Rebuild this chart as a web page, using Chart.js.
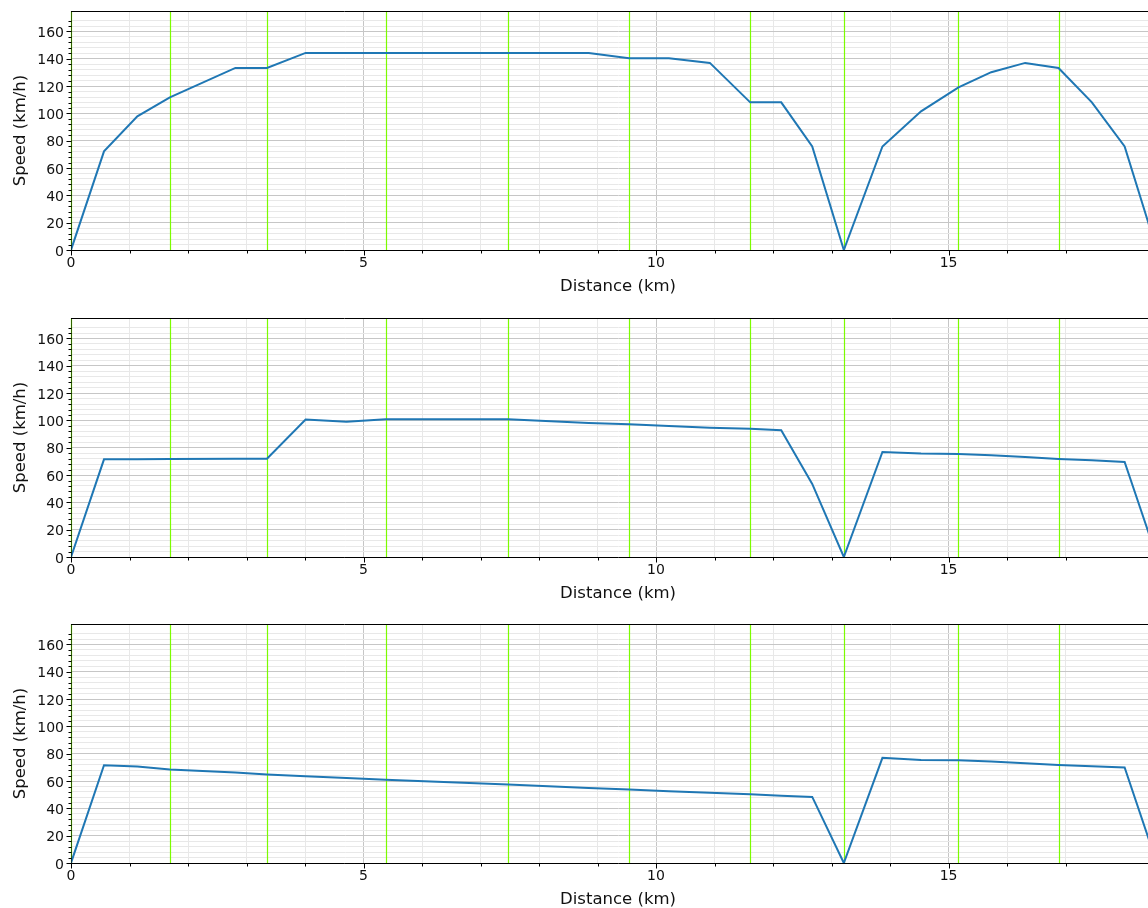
<!DOCTYPE html>
<html>
<head>
<meta charset="utf-8">
<script src="https://cdn.jsdelivr.net/npm/chart.js@4/dist/chart.umd.min.js"></script>
<style>
  html, body { margin: 0; padding: 0; background: #fff; width: 1148px; height: 908px; overflow: hidden; }
  .wrap { position: absolute; left: 0; width: 1170px; height: 300px; }
  canvas { display: block; }
</style>
</head>
<body>
<div class="wrap" style="top:0px"><canvas id="c1" width="1170" height="300"></canvas></div>
<div class="wrap" style="top:307px"><canvas id="c2" width="1170" height="300"></canvas></div>
<div class="wrap" style="top:613px"><canvas id="c3" width="1170" height="300"></canvas></div>
<script>
// ---- data ----
const distances = [0, 0.564, 1.134, 1.69, 2.81, 3.35, 4.01, 4.71, 5.38, 7.47, 8.85, 9.54, 10.22, 10.92, 11.61, 12.14, 12.67, 13.21, 13.87, 14.53, 15.17, 15.73, 16.31, 16.88, 17.45, 18.01, 18.56];
const speedTop = [0, 72.2, 97.9, 111.8, 133.3, 133.3, 144.3, 144.3, 144.3, 144.3, 144.3, 140.4, 140.4, 137.0, 108.1, 108.1, 75.8, 0, 75.8, 101.5, 119.1, 130.2, 137.0, 133.3, 108.1, 75.8, 0];
const speedMiddle = [0, 71.5, 71.6, 71.8, 72.0, 72.0, 100.6, 99.1, 100.9, 100.9, 98.2, 97.2, 96.0, 94.7, 93.9, 92.8, 53.5, 0, 76.9, 75.7, 75.5, 74.5, 73.3, 71.8, 70.8, 69.6, 0];
const speedBottom = [0, 71.6, 70.6, 68.4, 66.3, 64.8, 63.5, 62.3, 61.0, 57.4, 55.0, 53.8, 52.6, 51.4, 50.3, 49.3, 48.4, 0, 77.0, 75.5, 75.3, 74.3, 73.0, 71.8, 70.8, 69.9, 0];
const stations = [0, 1.69, 3.345, 5.38, 7.47, 9.54, 11.61, 13.21, 15.17, 16.88];
const xLabel = 'Distance (km)';
const yLabel = 'Speed (km/h)';

const FONT = 'DejaVu Sans';
const MAJOR_GRID = '#c6c6c6';
const MINOR_GRID = '#e8e8e8';

const decorPlugin = {
  id: 'decor',
  beforeDatasetsDraw(chart) {
    const {ctx, chartArea, scales} = chart;
    ctx.save();
    ctx.strokeStyle = '#7cfc00';
    ctx.lineWidth = 1.2;
    stations.forEach(s => {
      const x = Math.round(scales.x.getPixelForValue(s)) + 0.5;
      ctx.beginPath();
      ctx.moveTo(x, chartArea.top);
      ctx.lineTo(x, chartArea.bottom);
      ctx.stroke();
    });
    ctx.restore();
  },
  afterDraw(chart) {
    const {ctx, chartArea, scales} = chart;
    ctx.save();
    ctx.lineWidth = 1;
    ctx.strokeStyle = '#000';
    const top = Math.round(chartArea.top) + 0.5;
    ctx.beginPath(); ctx.moveTo(chartArea.left, top); ctx.lineTo(chartArea.right, top); ctx.stroke();
    const lx = Math.round(chartArea.left) + 0.5;
    ctx.strokeStyle = 'rgba(0,0,0,0.6)';
    ctx.beginPath(); ctx.moveTo(lx, chartArea.top); ctx.lineTo(lx, chartArea.bottom + 0.5); ctx.stroke();
    ctx.strokeStyle = '#000';
    const bottom = Math.round(chartArea.bottom) + 0.5;
    scales.x.ticks.forEach(t => {
      if (!Number.isInteger(t.value)) return;
      const len = t.value % 5 === 0 ? 5 : 3;
      const x = Math.round(scales.x.getPixelForValue(t.value)) + 0.5;
      ctx.beginPath(); ctx.moveTo(x, bottom); ctx.lineTo(x, bottom + len); ctx.stroke();
    });
    scales.y.ticks.forEach(t => {
      if (t.value % 4 !== 0) return;
      const len = t.value % 20 === 0 ? 5 : 3;
      const y = Math.round(scales.y.getPixelForValue(t.value)) + 0.5;
      ctx.beginPath(); ctx.moveTo(lx, y); ctx.lineTo(lx - len, y); ctx.stroke();
    });
    ctx.restore();
  }
};

function makeChart(id, values) {
  const points = distances.map((d, i) => ({x: d, y: values[i]}));
  return new Chart(document.getElementById(id), {
    type: 'line',
    data: {
      datasets: [{
        data: points,
        borderColor: '#1f77b4',
        borderWidth: 2,
        pointRadius: 0,
        tension: 0,
        fill: false
      }]
    },
    options: {
      responsive: false,
      animation: false,
      layout: { padding: { left: 0, right: 5, top: 11, bottom: 0 } },
      plugins: { legend: { display: false }, tooltip: { enabled: false } },
      scales: {
        x: {
          type: 'linear',
          min: 0,
          max: 18.7,
          afterFit: (s) => { s.height = 50; s.paddingLeft = 0; s.paddingRight = 0; },
          border: { display: true, color: '#000', width: 1 },
          grid: {
            drawTicks: false,
            color: (c) => Number.isInteger(c.tick.value) ? (c.tick.value % 5 === 0 ? MAJOR_GRID : MINOR_GRID) : 'rgba(0,0,0,0)',
            lineWidth: 1
          },
          ticks: {
            stepSize: 1,
            autoSkip: false,
            maxRotation: 0,
            padding: 5,
            color: '#111',
            font: { family: FONT, size: 14 },
            callback: (v) => (Number.isInteger(v) && v % 5 === 0) ? String(v) : ''
          },
          title: {
            display: true,
            text: xLabel,
            color: '#111',
            font: { family: FONT, size: 16.5 },
            padding: { top: 0, bottom: 3.5 }
          }
        },
        y: {
          type: 'linear',
          min: 0,
          max: 175,
          afterFit: (s) => { s.width = 71; s.paddingTop = 0; s.paddingBottom = 0; },
          border: { display: true, color: '#000', width: 1 },
          grid: {
            drawTicks: false,
            color: (c) => (c.tick.value % 4 === 0) ? (c.tick.value % 20 === 0 ? MAJOR_GRID : MINOR_GRID) : 'rgba(0,0,0,0)',
            lineWidth: 1
          },
          ticks: {
            stepSize: 4,
            autoSkip: false,
            padding: 7,
            labelOffset: 2,
            color: '#111',
            font: { family: FONT, size: 14 },
            callback: (v) => (v % 20 === 0) ? String(v) : ''
          },
          title: {
            display: true,
            text: yLabel,
            color: '#111',
            font: { family: FONT, size: 16.5 },
            padding: { top: 10.5, bottom: 0 }
          }
        }
      }
    },
    plugins: [decorPlugin]
  });
}

makeChart('c1', speedTop);
makeChart('c2', speedMiddle);
makeChart('c3', speedBottom);
</script>
</body>
</html>
